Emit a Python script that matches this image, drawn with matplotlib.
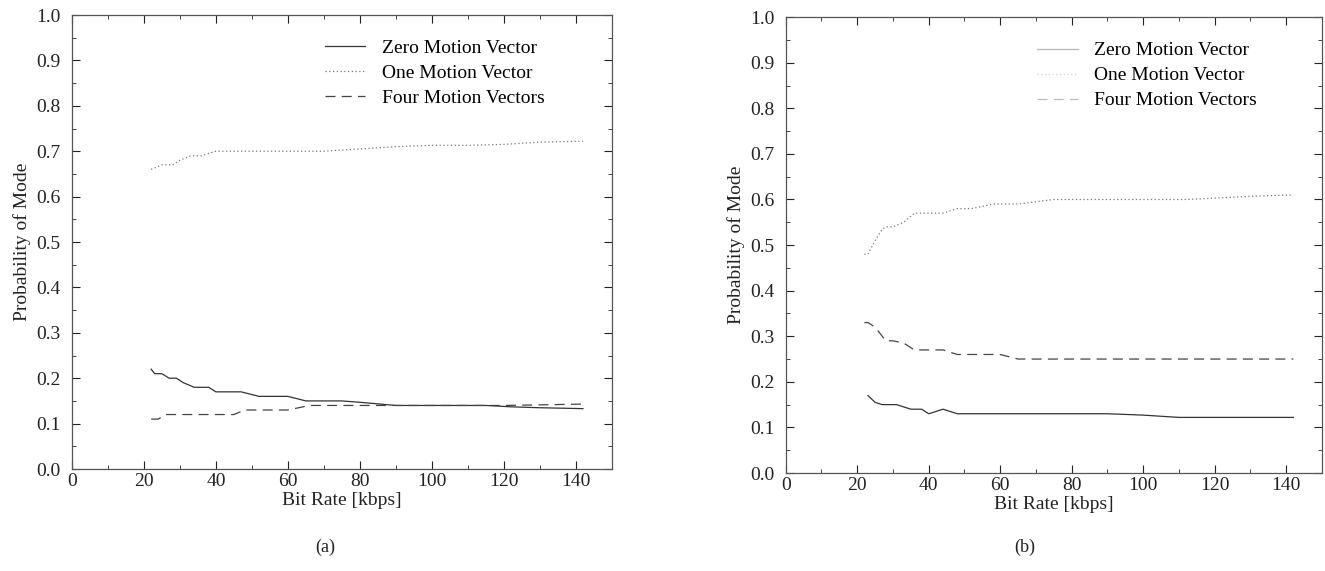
import matplotlib
matplotlib.use("Agg")
import matplotlib.pyplot as plt
from matplotlib.ticker import MultipleLocator

plt.rcParams['font.family'] = ['Liberation Serif', 'DejaVu Serif']

# ---- data: panel (a) ----
a_zero_x = [22, 23, 25, 27, 29, 31, 34, 38, 40, 47, 52, 60, 65, 75, 80, 90, 100, 115, 122, 130, 142]
a_zero_y = [0.22, 0.21, 0.21, 0.20, 0.20, 0.19, 0.18, 0.18, 0.17, 0.17, 0.16, 0.16, 0.15, 0.15, 0.147, 0.14, 0.14, 0.14, 0.137, 0.135, 0.133]
a_one_x = [22, 25, 28, 30, 33, 36, 40, 45, 50, 60, 65, 70, 80, 90, 100, 110, 120, 130, 142]
a_one_y = [0.66, 0.67, 0.67, 0.68, 0.69, 0.69, 0.70, 0.70, 0.70, 0.70, 0.70, 0.70, 0.705, 0.71, 0.713, 0.713, 0.715, 0.72, 0.722]
a_four_x = [22, 24, 26, 45, 48, 60, 66, 90, 120, 142]
a_four_y = [0.11, 0.11, 0.12, 0.12, 0.13, 0.13, 0.14, 0.14, 0.14, 0.143]

# ---- data: panel (b) ----
b_zero_x = [23, 25, 27, 31, 35, 38, 40, 44, 48, 90, 100, 110, 142]
b_zero_y = [0.17, 0.155, 0.15, 0.15, 0.14, 0.14, 0.13, 0.14, 0.13, 0.13, 0.127, 0.122, 0.122]
b_one_x = [22, 23, 25, 27, 28, 30, 33, 36, 40, 44, 48, 52, 55, 58, 65, 75, 80, 100, 112, 120, 130, 142]
b_one_y = [0.48, 0.48, 0.51, 0.535, 0.54, 0.54, 0.55, 0.57, 0.57, 0.57, 0.58, 0.58, 0.585, 0.59, 0.59, 0.60, 0.60, 0.60, 0.60, 0.603, 0.607, 0.61]
b_four_x = [22, 23, 25, 28, 30, 33, 36, 40, 44, 48, 55, 60, 65, 142]
b_four_y = [0.33, 0.33, 0.32, 0.29, 0.29, 0.285, 0.27, 0.27, 0.27, 0.26, 0.26, 0.26, 0.25, 0.25]

labels = ["Zero Motion Vector", "One Motion Vector", "Four Motion Vectors"]
x_ticks = [0, 20, 40, 60, 80, 100, 120, 140]

fig = plt.figure(figsize=(13.25, 5.71), dpi=100)
ax1 = fig.add_axes([0.0543, 0.1786, 0.4074, 0.7951])
ax2 = fig.add_axes([0.593, 0.1716, 0.4047, 0.7984])

FS = 14

def style(ax, legend_alpha):
    l1, = ax.plot([], [], color='#333333', lw=0.9, ls='-', alpha=legend_alpha)
    l2, = ax.plot([], [], color='#777777', lw=0.9, ls=(0, (1, 2)), alpha=legend_alpha)
    l3, = ax.plot([], [], color='#444444', lw=0.9, ls=(0, (8, 5)), alpha=legend_alpha)
    ax.legend([l1, l2, l3], labels, loc='upper left', bbox_to_anchor=(0.468, 0.946),
              frameon=False, fontsize=FS, handlelength=2.1, handletextpad=0.85,
              labelspacing=0.38, borderpad=0, borderaxespad=0)
    ax.set_xlim(0, 150)
    ax.set_ylim(0, 1.0)
    ax.set_xticks(x_ticks)
    ax.xaxis.set_minor_locator(MultipleLocator(10))
    ax.yaxis.set_major_locator(MultipleLocator(0.1))
    ax.yaxis.set_minor_locator(MultipleLocator(0.05))
    ax.yaxis.set_major_formatter(plt.FormatStrFormatter('%.1f'))
    ax.tick_params(which='both', direction='in', top=True, right=True, labelsize=FS, colors='#222222')
    ax.tick_params(axis='x', pad=3)
    ax.tick_params(axis='y', pad=8)
    ax.tick_params(which='major', length=6, width=0.8)
    ax.tick_params(which='minor', length=3, width=0.6)
    for s in ax.spines.values():
        s.set_color('#555555')
        s.set_linewidth(0.9)
    ax.set_xlabel("Bit Rate [kbps]", fontsize=FS, color='#222222', labelpad=1)
    ax.set_ylabel("Probability of Mode", fontsize=FS, color='#222222', labelpad=4)

style(ax1, 1.0)
ax1.plot(a_zero_x, a_zero_y, color='#333333', lw=0.9, ls='-')
ax1.plot(a_one_x, a_one_y, color='#777777', lw=0.9, ls=(0, (1, 2)))
ax1.plot(a_four_x, a_four_y, color='#444444', lw=0.9, ls=(0, (8, 5)))

style(ax2, 0.35)
ax2.plot(b_zero_x, b_zero_y, color='#333333', lw=0.9, ls='-')
ax2.plot(b_one_x, b_one_y, color='#777777', lw=0.9, ls=(0, (1, 2)))
ax2.plot(b_four_x, b_four_y, color='#444444', lw=0.9, ls=(0, (8, 5)))

fig.text(0.2455, 0.042, "(a)", ha='center', va='center', fontsize=13, color='#222222')
fig.text(0.7736, 0.042, "(b)", ha='center', va='center', fontsize=13, color='#222222')

fig.savefig("out.png", dpi=100)
